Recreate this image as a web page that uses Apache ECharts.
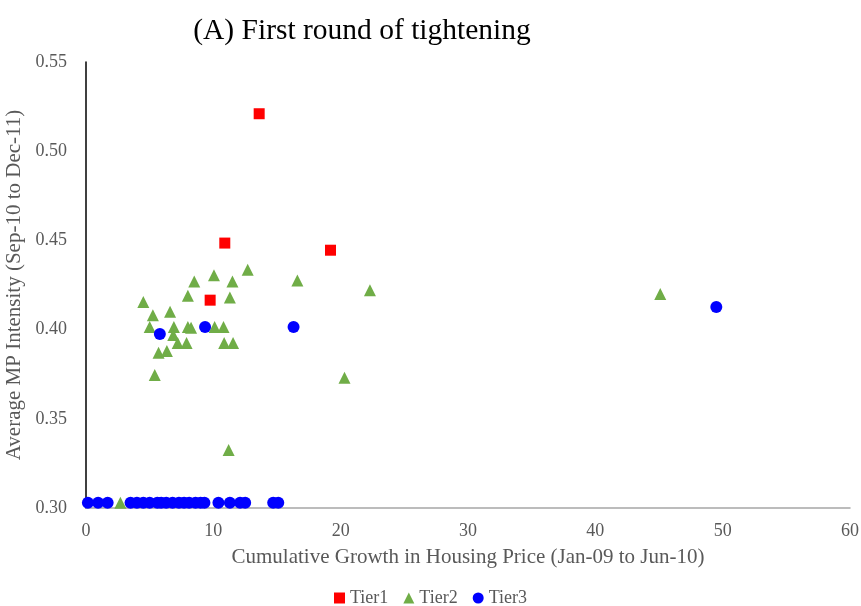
<!DOCTYPE html>
<html>
<head>
<meta charset="utf-8">
<script src="https://cdn.jsdelivr.net/npm/echarts@6/dist/echarts.min.js"></script>
<style>
  html, body { margin: 0; padding: 0; background: #fff; }
  #chart { width: 861px; height: 606px; }
</style>
</head>
<body>
<div id="chart"></div>
<script>
// Tier1 cities: [growth, intensity]
const tier1 = [
  [13.6, 0.521], [10.9, 0.4485], [19.2, 0.4445], [9.75, 0.4165]
];

// Tier2 cities
const tier2 = [
  [4.5, 0.4155], [5.25, 0.408], [6.6, 0.410], [5.0, 0.4015], [6.9, 0.4015],
  [6.85, 0.397], [8.0, 0.4015], [8.25, 0.401], [8.0, 0.419], [8.5, 0.427],
  [10.05, 0.4305], [11.5, 0.427], [12.7, 0.4335], [11.3, 0.418],
  [10.1, 0.4015], [10.8, 0.4015], [7.2, 0.3925], [7.9, 0.3925],
  [10.85, 0.3925], [11.55, 0.3925], [5.7, 0.387], [6.35, 0.388],
  [5.4, 0.3745], [11.2, 0.3325], [16.6, 0.4275], [22.3, 0.422],
  [20.3, 0.373], [45.1, 0.420], [2.7, 0.303]
];

// Tier3 cities
const tier3 = [
  [5.8, 0.3975], [9.35, 0.4015], [16.3, 0.4015], [49.5, 0.4127],
  [0.15, 0.303], [0.95, 0.303], [1.7, 0.303],
  [3.5, 0.303], [4.0, 0.303], [4.5, 0.303], [5.0, 0.303], [5.6, 0.303],
  [5.9, 0.303], [6.3, 0.303], [6.8, 0.303], [7.3, 0.303], [7.7, 0.303],
  [8.1, 0.303], [8.6, 0.303], [9.0, 0.303], [9.3, 0.303],
  [10.4, 0.303], [11.3, 0.303], [12.1, 0.303], [12.5, 0.303],
  [14.7, 0.303], [15.1, 0.303]
];

const chart = echarts.init(document.getElementById('chart'));
const font = '"Liberation Serif", "Times New Roman", serif';

const option = {
  backgroundColor: '#fff',
  animation: false,
  textStyle: { fontFamily: font },
  title: {
    text: '(A) First round of tightening',
    left: 357,
    textAlign: 'center',
    top: 11,
    textStyle: { fontFamily: font, fontSize: 29.5, fontWeight: 'normal', color: '#000' }
  },
  legend: {
    data: [
      { name: 'Tier1', icon: 'rect' },
      { name: 'Tier2', icon: 'triangle' },
      { name: 'Tier3', icon: 'circle' }
    ],
    bottom: -6,
    left: 'center',
    itemWidth: 11,
    itemHeight: 11,
    itemGap: 15,
    textStyle: { fontFamily: font, fontSize: 18, color: '#595959' }
  },
  grid: {
    left: 86,
    right: 11,
    top: 62,
    bottom: 98,
    outerBoundsMode: 'none'
  },
  xAxis: {
    type: 'value',
    min: 0,
    max: 60,
    interval: 10,
    name: 'Cumulative Growth in Housing Price (Jan-09 to Jun-10)',
    nameLocation: 'middle',
    nameGap: 39,
    nameTextStyle: { fontFamily: font, fontSize: 21, color: '#595959' },
    axisLine: { show: true, lineStyle: { color: '#a6a6a6', width: 1.5 } },
    axisTick: { show: false },
    splitLine: { show: false },
    axisLabel: { fontFamily: font, fontSize: 18, color: '#595959', margin: 14 }
  },
  yAxis: {
    type: 'value',
    min: 0.30,
    max: 0.55,
    interval: 0.05,
    name: 'Average MP Intensity (Sep-10 to Dec-11)',
    nameLocation: 'middle',
    nameGap: 55,
    nameTextStyle: { fontFamily: font, fontSize: 21, color: '#595959' },
    axisLine: { show: true, onZero: false, lineStyle: { color: '#000', width: 1.5 } },
    axisTick: { show: false },
    splitLine: { show: false },
    axisLabel: {
      fontFamily: font, fontSize: 18, color: '#595959', margin: 19,
      formatter: v => v.toFixed(2)
    }
  },
  series: [
    {
      name: 'Tier1',
      type: 'scatter',
      symbol: 'rect',
      symbolSize: 11,
      data: tier1,
      itemStyle: { color: '#ff0000', opacity: 1 },
      z: 3
    },
    {
      name: 'Tier2',
      type: 'scatter',
      symbol: 'triangle',
      symbolSize: 12,
      data: tier2,
      itemStyle: { color: '#70ad47', opacity: 1 },
      z: 2
    },
    {
      name: 'Tier3',
      type: 'scatter',
      symbol: 'circle',
      symbolSize: 12,
      data: tier3,
      itemStyle: { color: '#0000ff', opacity: 1 },
      z: 4
    }
  ]
};

chart.setOption(option);
</script>
</body>
</html>
